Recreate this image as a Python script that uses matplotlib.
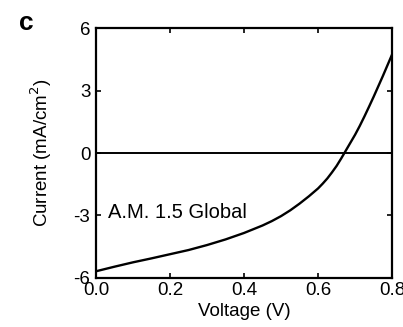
import matplotlib
matplotlib.use("Agg")
import matplotlib.pyplot as plt

# values
voltage = [0.0, 0.05, 0.10, 0.15, 0.20, 0.25, 0.30, 0.35, 0.40, 0.45, 0.475, 0.50,
           0.525, 0.55, 0.575, 0.60, 0.6125, 0.625, 0.6375, 0.65, 0.6625, 0.675,
           0.6875, 0.70, 0.7125, 0.725, 0.7375, 0.75, 0.7625, 0.775, 0.7875, 0.80]
current = [-5.68, -5.46, -5.25, -5.06, -4.86, -4.66, -4.42, -4.15, -3.84, -3.48, -3.27, -3.03,
           -2.75, -2.43, -2.08, -1.70, -1.47, -1.22, -0.93, -0.62, -0.26, 0.12,
           0.50, 0.88, 1.30, 1.75, 2.22, 2.70, 3.20, 3.70, 4.22, 4.74]
xticks = [0.0, 0.2, 0.4, 0.6, 0.8]
xticklabels = ["0.0", "0.2", "0.4", "0.6", "0.8"]
yticks = [-6, -3, 0, 3, 6]
yticklabels = ["-6", "-3", "0", "3", "6"]

plt.rcParams["font.family"] = ["Liberation Sans", "DejaVu Sans"]

fig = plt.figure(figsize=(4.03, 3.27), dpi=100)
ax = fig.add_axes([0.238, 0.150, 0.735, 0.764])

ax.plot(voltage, current, color="black", lw=1.7, solid_joinstyle="round")
ax.axhline(0, color="black", lw=1.4)

ax.set_xlim(0, 0.8)
ax.set_ylim(-6, 6)
ax.set_xticks(xticks)
ax.set_xticklabels(xticklabels)
ax.set_yticks(yticks)
ax.set_yticklabels(yticklabels)
ax.tick_params(direction="in", length=3.5, width=1.2, labelsize=13.5,
               top=True, right=True, pad=3)
ax.tick_params(axis="y", pad=4)
for s in ax.spines.values():
    s.set_linewidth(1.6)

ax.set_xlabel("Voltage (V)", fontsize=13.5, labelpad=3)
ax.set_ylabel("Current (mA/cm$^2$)", fontsize=13.5, labelpad=14)

ax.text(0.032, -2.86, "A.M. 1.5 Global", fontsize=14.5, va="center", ha="left")
fig.text(0.048, 0.965, "c", fontsize=19, fontweight="bold", va="top", ha="left")

plt.savefig("out.png", dpi=100)
